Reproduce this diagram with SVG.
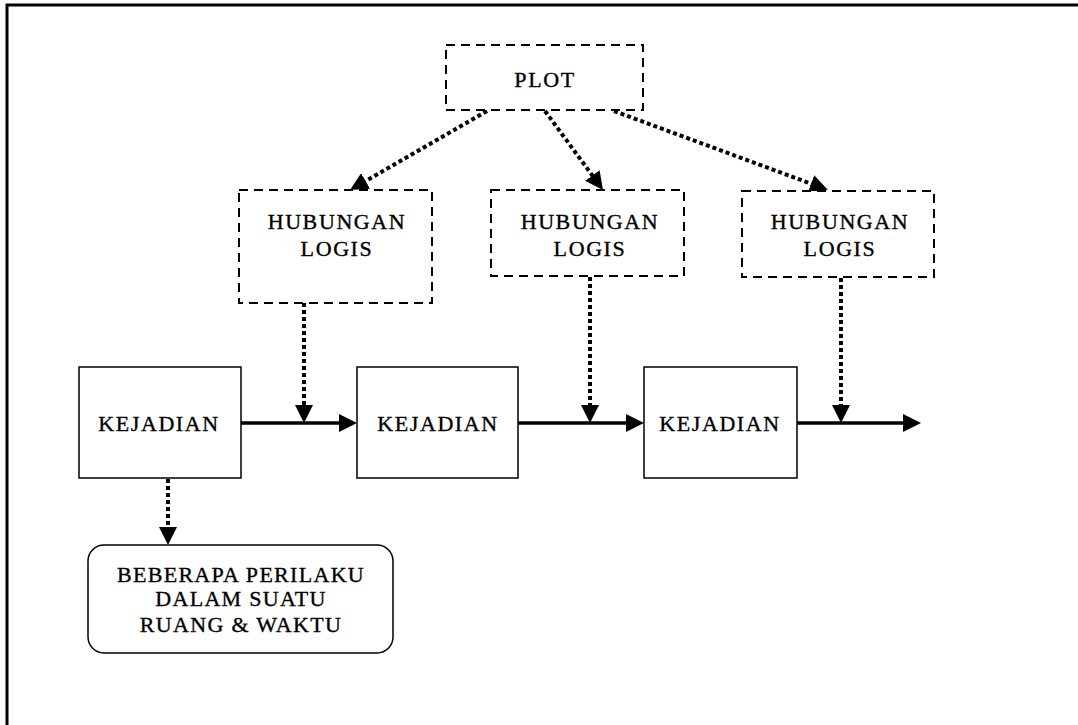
<svg xmlns="http://www.w3.org/2000/svg" width="1078" height="725" viewBox="0 0 1078 725">
  <defs>
    <marker id="head" markerUnits="userSpaceOnUse" markerWidth="18" markerHeight="18" refX="6" refY="9" orient="auto">
      <path d="M0,0 L18,9 L0,18 Z" fill="#000"/>
    </marker>
    <style>
      .lbl { font-family: "Liberation Serif", "Times New Roman", serif; font-size: 22px; letter-spacing: 1.6px; fill: #000; stroke: #000; stroke-width: 0.35; text-anchor: middle; }
      .tight { letter-spacing: 1.3px; }
      .dash { fill: #fff; stroke: #000; stroke-width: 2; stroke-dasharray: 9 6; }
      .solid { fill: #fff; stroke: #000; stroke-width: 1.5; }
      .flow { fill: none; stroke: #000; stroke-width: 3.5; marker-end: url(#head); }
      .dots { fill: none; stroke: #000; stroke-width: 4; stroke-dasharray: 4 3; marker-end: url(#head); }
    </style>
  </defs>

  <rect width="1078" height="725" fill="#fff"/>
  <!-- page frame -->
  <path d="M7,725 V5 H1078" fill="none" stroke="#000" stroke-width="3"/>

  <g id="connectors">
    <!-- plot to logical links -->
    <path class="dots" d="M487,111 L360.4,184"/>
    <path class="dots" d="M545,111 L595.9,180.3"/>
    <path class="dots" d="M614,111 L816.7,185.8"/>
    <!-- logical links onto the event chain -->
    <path class="dots" d="M304,303 V411"/>
    <path class="dots" d="M590,277 V411"/>
    <path class="dots" d="M841,278 V411"/>
    <!-- event chain -->
    <path class="flow" d="M241,423 H345"/>
    <path class="flow" d="M518,423 H632"/>
    <path class="flow" d="M797,423 H909"/>
    <!-- event to behaviour -->
    <path class="dots" d="M168,479 V533"/>
  </g>

  <g id="plot">
    <rect class="dash" x="446" y="45" width="197" height="65"/>
    <text class="lbl" x="545" y="87">PLOT</text>
  </g>

  <g id="hubungan1">
    <rect class="dash" x="239" y="190" width="193" height="113"/>
    <text class="lbl" x="337" y="229">HUBUNGAN</text>
    <text class="lbl" x="337" y="256">LOGIS</text>
  </g>
  <g id="hubungan2">
    <rect class="dash" x="491" y="190" width="193" height="86"/>
    <text class="lbl" x="590" y="229">HUBUNGAN</text>
    <text class="lbl" x="590" y="256">LOGIS</text>
  </g>
  <g id="hubungan3">
    <rect class="dash" x="742" y="191" width="192" height="86"/>
    <text class="lbl" x="840" y="229">HUBUNGAN</text>
    <text class="lbl" x="840" y="256">LOGIS</text>
  </g>

  <g id="kejadian1">
    <rect class="solid" x="79" y="367" width="162" height="111"/>
    <text class="lbl" x="159" y="431">KEJADIAN</text>
  </g>
  <g id="kejadian2">
    <rect class="solid" x="357" y="367" width="161" height="111"/>
    <text class="lbl" x="438" y="431">KEJADIAN</text>
  </g>
  <g id="kejadian3">
    <rect class="solid" x="644" y="367" width="153" height="111"/>
    <text class="lbl" x="720" y="431">KEJADIAN</text>
  </g>

  <g id="perilaku">
    <rect class="solid" x="88" y="545" width="305" height="108" rx="16" ry="16"/>
    <text class="lbl tight" x="241" y="582">BEBERAPA PERILAKU</text>
    <text class="lbl tight" x="241" y="606">DALAM SUATU</text>
    <text class="lbl tight" x="241" y="632">RUANG &amp; WAKTU</text>
  </g>
</svg>
